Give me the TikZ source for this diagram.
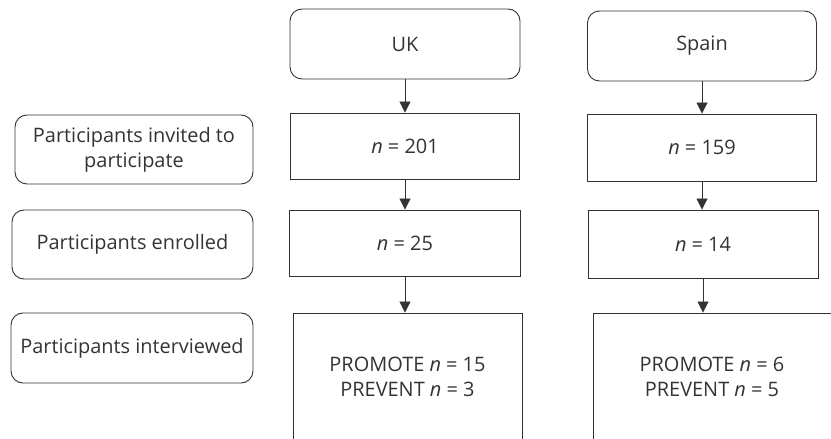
\documentclass[tikz,border=0pt]{standalone}
\usepackage{fontspec}
\setmainfont{Open Sans}
\usetikzlibrary{arrows.meta}
\definecolor{ln}{HTML}{333333}
\definecolor{tx}{HTML}{333333}
\tikzset{
  box/.style={draw=ln, line width=0.9bp, rectangle, align=center, inner sep=0pt,
    text=tx, font=\fontsize{20}{25}\selectfont},
  rbox/.style={box, rounded corners=12bp},
  arr/.style={draw=ln, line width=0.9bp, -{Triangle[width=11bp,length=11bp]}}
}
\begin{document}
\begin{tikzpicture}[x=1bp,y=-1bp]
\useasboundingbox (0,0) rectangle (831,439);
\clip (0,0) rectangle (831,439);
% UK column
\node[rbox, minimum width=230bp, minimum height=70bp] (uk) at (405,44) {UK};
\node[box, minimum width=229bp, minimum height=66bp] (n201) at (405,146) {\textit{n} = 201};
\node[box, minimum width=231bp, minimum height=66bp] (n25) at (405,243) {\textit{n} = 25};
\node[box, minimum width=229bp, minimum height=128bp] (ukb) at (407.5,377) {PROMOTE \textit{n} = 15\\PREVENT \textit{n} = 3};
% Spain column
\node[rbox, minimum width=229bp, minimum height=70bp] (sp) at (702,46) {Spain};
\node[box, minimum width=229bp, minimum height=67bp] (n159) at (702,147.5) {\textit{n} = 159};
\node[box, minimum width=230bp, minimum height=68bp] (n14) at (703,244) {\textit{n} = 14};
\node[box, minimum width=238bp, minimum height=128bp] (spb) at (712,377) {PROMOTE \textit{n} = 6\\PREVENT \textit{n} = 5};
% left labels
\node[rbox, minimum width=238bp, minimum height=69bp] (l1) at (134,149.5) {Participants invited to\\participate};
\node[rbox, minimum width=241bp, minimum height=69bp] (l2) at (132.5,244.5) {Participants enrolled};
\node[rbox, minimum width=242bp, minimum height=70bp] (l3) at (132,348) {Participants interviewed};
% arrows
\draw[arr] (uk.south) -- (n201.north);
\draw[arr] (n201.south) -- (n25.north);
\draw[arr] (n25.south) -- (n25.south |- ukb.north);
\draw[arr] (sp.south) -- (n159.north);
\draw[arr] (n159.south) -- (n159.south |- n14.north);
\draw[arr] (n14.south) -- (n14.south |- spb.north);
\end{tikzpicture}
\end{document}
